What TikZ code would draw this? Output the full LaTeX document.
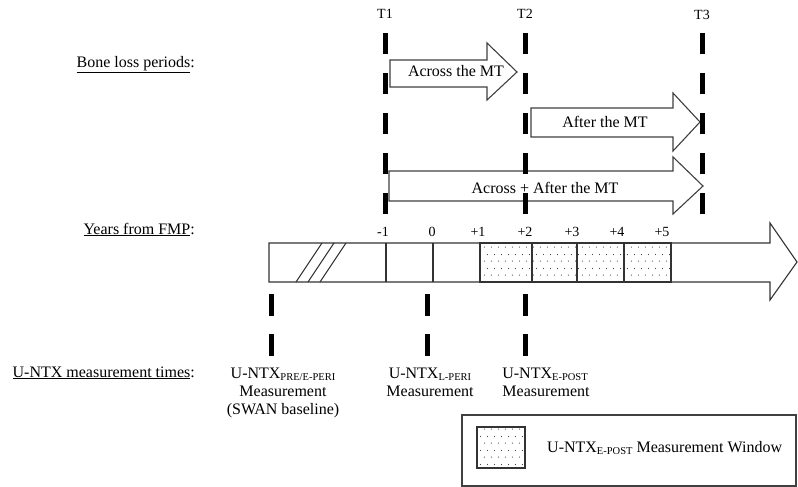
\documentclass[tikz,border=0pt]{standalone}
\usepackage{fontspec}
\setmainfont{Liberation Serif}
\usetikzlibrary{patterns.meta}
\tikzdeclarepattern{
  name=sparsedots,
  type=uncolored,
  bottom left={(0pt,0pt)},
  top right={(7pt,14pt)},
  tile size={(7pt,14pt)},
  code={\fill (1.5pt,2pt) circle (0.65pt); \fill (5pt,9pt) circle (0.65pt);}
}
\newcommand\sbx[1]{\raisebox{-0.35ex}{\fontsize{10.5}{11}\selectfont #1}}
\begin{document}
\begin{tikzpicture}[x=1pt,y=-1pt,
  lab/.style={font=\fontsize{16}{19}\selectfont, inner sep=0pt},
  num/.style={font=\fontsize{14}{16}\selectfont, inner sep=0pt},
  blockarrow/.style={draw=black!75, line width=1.1pt, fill=white, line join=miter},
  tdash/.style={line width=5pt, dash pattern=on 21pt off 19pt},
  mdash/.style={line width=5pt, dash pattern=on 22pt off 18pt},
  bar/.style={draw=black!80, line width=1.1pt},
  dotfill/.style={pattern=sparsedots, pattern color=black!70},
]
\useasboundingbox (0,0) rectangle (798,487);
\fill[white] (0,0) rectangle (798,487);

% left labels
\node[lab, anchor=base east] (blp) at (195,67) {\underline{Bone loss periods}:};
\node[lab, anchor=base east] (yfm) at (195,234) {\underline{Years from FMP}:};
\node[lab, anchor=base east] (umt) at (195,377) {\underline{U-NTX measurement times}:};

% bone loss period arrows
\draw[blockarrow] (390,60) -- (487,60) -- (487,43) -- (517,72) -- (487,100) -- (487,87) -- (390,87) -- cycle;
\node[lab, anchor=base] (a1) at (456,77) {Across the MT};
\draw[blockarrow] (531,108) -- (673,108) -- (673,93) -- (700,122) -- (673,151) -- (673,137) -- (531,137) -- cycle;
\node[lab, anchor=base] (a2) at (605,127) {After the MT};
\draw[blockarrow] (389,171) -- (673,171) -- (673,157) -- (703,186) -- (673,214) -- (673,201) -- (389,201) -- cycle;
\node[lab, anchor=base] (a3) at (545,193) {Across + After the MT};

% T labels and dashed lines
\node[num, anchor=base] (T1) at (385,19) {T1};
\node[num, anchor=base] (T2) at (525,19) {T2};
\node[num, anchor=base] (T3) at (702,20) {T3};
\coordinate (t1a) at (385,33); \coordinate (t1b) at (385,215);
\coordinate (t2a) at (525,33); \coordinate (t2b) at (525,215);
\coordinate (t3a) at (702,33); \coordinate (t3b) at (702,215);
\draw[tdash] (t1a) -- (t1b);
\draw[tdash] (t2a) -- (t2b);
\draw[tdash] (t3a) -- (t3b);

% timeline
\draw[bar, fill=white, line join=miter] (269,243) -- (770,243) -- (770,223) -- (797,262) -- (770,300) -- (770,282) -- (269,282) -- cycle;
\draw[bar] (296,282) -- (322,243);
\draw[bar] (308,282) -- (334,243);
\draw[bar] (320,282) -- (346,243);
\draw[bar] (386,243) -- (386,282);
\draw[bar] (433,243) -- (433,282);
\draw[bar, dotfill] (480,243) rectangle (532,282);
\draw[bar, dotfill] (532,243) rectangle (577,282);
\draw[bar, dotfill] (577,243) rectangle (624,282);
\draw[bar, dotfill] (624,243) rectangle (671,282);

% year labels
\node[num, anchor=base] (ym1) at (383,236) {-1};
\node[num, anchor=base] (y0) at (432,236) {0};
\node[num, anchor=base] (y1) at (478,236) {+1};
\node[num, anchor=base] (y2) at (525,236) {+2};
\node[num, anchor=base] (y3) at (572,236) {+3};
\node[num, anchor=base] (y4) at (617,236) {+4};
\node[num, anchor=base] (y5) at (662,236) {+5};

% measurement time dashes
\coordinate (m1a) at (271,294); \coordinate (m1b) at (271,356);
\coordinate (m2a) at (427,294); \coordinate (m2b) at (427,356);
\coordinate (m3a) at (525,294); \coordinate (m3b) at (525,356);
\draw[mdash] (m1a) -- (m1b);
\draw[mdash] (m2a) -- (m2b);
\draw[mdash] (m3a) -- (m3b);

% measurement labels
\node[lab, anchor=base] (u1a) at (283,378) {U-NTX\sbx{PRE/E-PERI}};
\node[lab, anchor=base] (u1b) at (283,396) {Measurement};
\node[lab, anchor=base] (u1c) at (283,414) {(SWAN baseline)};
\node[lab, anchor=base] (u2a) at (430,378) {U-NTX\sbx{L-PERI}};
\node[lab, anchor=base] (u2b) at (430,396) {Measurement};
\node[lab, anchor=base] (u3a) at (545,378) {U-NTX\sbx{E-POST}};
\node[lab, anchor=base] (u3b) at (546,396) {Measurement};

% legend
\draw[draw=black!75, line width=1.5pt] (462,415) rectangle (796,486);
\draw[bar, dotfill] (477,427) rectangle (525,468);
\node[lab, anchor=base west] (leg) at (547,452) {U-NTX\sbx{E-POST} Measurement Window};
\end{tikzpicture}
\end{document}
